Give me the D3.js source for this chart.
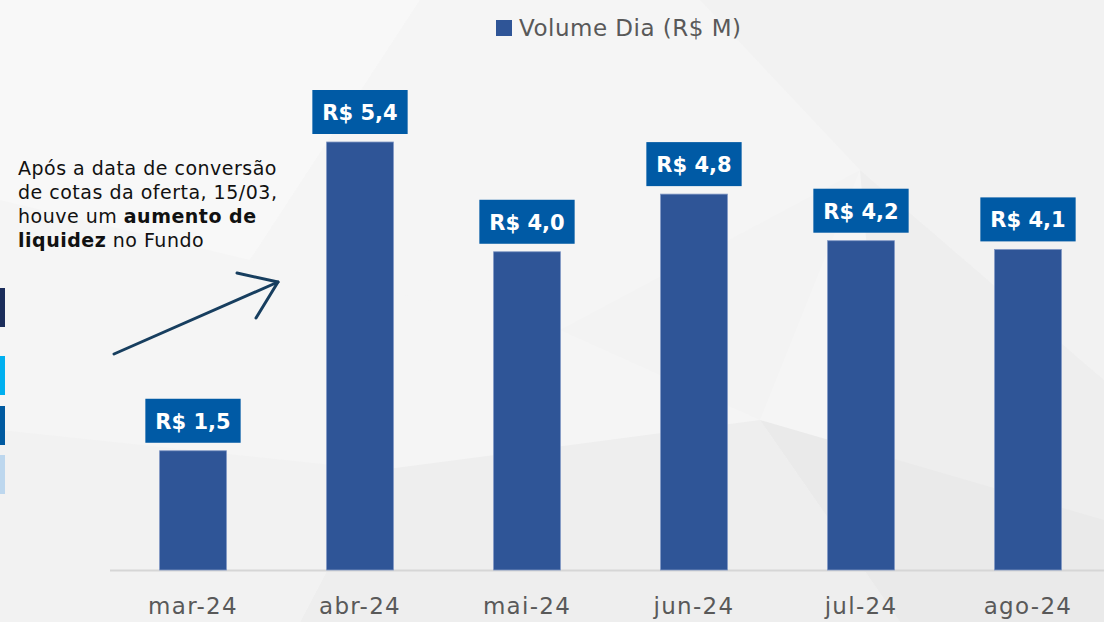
<!DOCTYPE html>
<html>
<head>
<meta charset="utf-8">
<script src="https://cdn.jsdelivr.net/npm/d3@7/dist/d3.min.js"></script>
<style>
  html, body { margin: 0; padding: 0; background: #f5f5f5; }
  svg { display: block; }
</style>
</head>
<body>
<svg id="chart" width="1104" height="622"></svg>
<script>
// ---- data ----
const categories = ["mar-24", "abr-24", "mai-24", "jun-24", "jul-24", "ago-24"];
const volumeDia = [1.51, 5.42, 4.03, 4.76, 4.17, 4.06];
const seriesName = "Volume Dia (R$ M)";
const annotationLines = [
  [{t: "Após a data de conversão", b: false}],
  [{t: "de cotas da oferta, 15/03,", b: false}],
  [{t: "houve um ", b: false}, {t: "aumento de", b: true}],
  [{t: "liquidez", b: true}, {t: " no Fundo", b: false}]
];
const sideStripColors = ["#1b2d5b", "#00b0f0", "#005aa0", "#bdd7ee"];

const FONT = "'DejaVu Sans', sans-serif";
const svg = d3.select("#chart");
const W = 1104, H = 622;

// ---- background ----
const bg = svg.append("g");
bg.append("rect").attr("width", W).attr("height", H).attr("fill", "#f5f5f5");
const polys = [
  {p: [[0,0],[420,0],[250,260],[0,200]], f: "#f8f8f8"},
  {p: [[250,260],[420,0],[700,0],[560,330]], f: "#f5f5f5"},
  {p: [[700,0],[1104,0],[1104,380],[860,170]], f: "#f2f2f2"},
  {p: [[860,170],[1104,380],[1104,622],[900,622]], f: "#eeeeee"},
  {p: [[380,470],[760,420],[900,622],[300,622]], f: "#eeeeee"},
  {p: [[0,430],[380,470],[300,622],[0,622]], f: "#f2f2f2"},
  {p: [[560,330],[860,170],[760,420]], f: "#f3f3f3"},
  {p: [[760,420],[1104,520],[1104,622],[900,622]], f: "#eaeaea"}
];
bg.selectAll("polygon").data(polys).join("polygon")
  .attr("points", d => d.p.map(q => q.join(",")).join(" "))
  .attr("fill", d => d.f);

// ---- left strips (cut-off legend) ----
const stripTops = [288, 356, 406, 455];
svg.append("g").selectAll("rect").data(sideStripColors).join("rect")
  .attr("x", 0).attr("width", 5)
  .attr("y", (d, i) => stripTops[i]).attr("height", 39)
  .attr("fill", d => d);

// ---- scales ----
const x = d3.scaleBand().domain(categories).range([109.5, 1111.5]).paddingInner(0.6).paddingOuter(0.3);
const y = d3.scaleLinear().domain([0, 5.42]).range([570, 142]);

// ---- axis ----
const xAxis = svg.append("g").attr("transform", "translate(0,570)")
  .call(d3.axisBottom(x).tickSize(0).tickPadding(28));
xAxis.select(".domain").remove();
xAxis.selectAll("text")
  .attr("font-family", FONT).attr("font-size", 23).attr("letter-spacing", 1.3)
  .attr("fill", "#595959");
svg.append("line").attr("x1", 110).attr("x2", W).attr("y1", 570.5).attr("y2", 570.5)
  .attr("stroke", "#d6d6d6").attr("stroke-width", 2);

// ---- bars ----
svg.append("g").selectAll("rect").data(volumeDia).join("rect")
  .attr("x", (d, i) => x(categories[i]))
  .attr("width", x.bandwidth())
  .attr("y", d => y(d))
  .attr("height", d => y(0) - y(d))
  .attr("fill", "#2f5597")
  .attr("stroke", "#7f96c4").attr("stroke-width", 0.8);

// ---- value labels ----
const fmt = v => "R$ " + d3.format(".1f")(v).replace(".", ",");
const lbl = svg.append("g").selectAll("g").data(volumeDia).join("g");
lbl.each(function(d, i) {
  const g = d3.select(this);
  const cx = x(categories[i]) + x.bandwidth() / 2;
  const bottom = y(d) - 8;
  const rect = g.append("rect").attr("fill", "#005aa5");
  const t = g.append("text").text(fmt(d))
    .attr("x", cx).attr("y", bottom - 14)
    .attr("text-anchor", "middle")
    .attr("font-family", FONT).attr("font-weight", 700)
    .attr("font-size", 21).attr("fill", "#ffffff");
  const w = t.node().getComputedTextLength() + 20;
  rect.attr("x", cx - w / 2).attr("y", bottom - 44).attr("width", w).attr("height", 44);
});

// ---- legend ----
const leg = svg.append("g");
leg.append("rect").attr("x", 496).attr("y", 20).attr("width", 16).attr("height", 16).attr("fill", "#2f5597");
leg.append("text").attr("x", 519).attr("y", 36).text(seriesName)
  .attr("font-family", FONT).attr("font-size", 23).attr("letter-spacing", 0.5)
  .attr("fill", "#595959");

// ---- annotation ----
const ann = svg.append("text").attr("font-family", FONT).attr("font-size", 19)
  .attr("letter-spacing", 0.5).attr("fill", "#111");
annotationLines.forEach((line, li) => {
  line.forEach((seg, si) => {
    const ts = ann.append("tspan").text(seg.t).attr("font-weight", seg.b ? 700 : 400);
    if (si === 0) ts.attr("x", 18).attr("y", 175 + li * 24);
  });
});

// arrow
const arrow = svg.append("g").attr("stroke", "#173e5f").attr("stroke-width", 3)
  .attr("fill", "none").attr("stroke-linecap", "round").attr("stroke-linejoin", "round");
arrow.append("line").attr("x1", 114).attr("y1", 354).attr("x2", 278).attr("y2", 282);
arrow.append("polyline").attr("points", "237,273 278,282 256,318");
</script>
</body>
</html>
